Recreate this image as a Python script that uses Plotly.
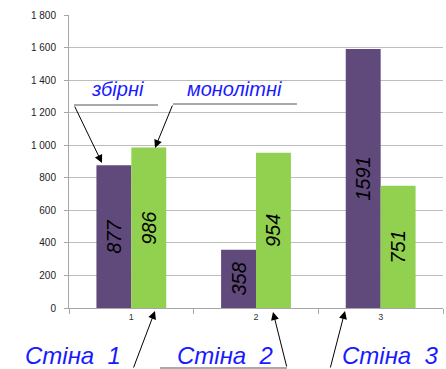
import plotly.graph_objects as go

categories = ["1", "2", "3"]
zbirni = [877, 358, 1591]
monolitni = [986, 954, 751]
ytick_vals = [0, 200, 400, 600, 800, 1000, 1200, 1400, 1600, 1800]
ytick_text = ["0", "200", "400", "600", "800", "1 000", "1 200", "1 400", "1 600", "1 800"]

L, R, T, B = 69, 3, 15, 61
WIDTH, HEIGHT = 446, 369
PW = WIDTH - L - R
PH = HEIGHT - T - B

def px(x):
    return (x - L) / PW

def py(y):
    return (HEIGHT - B - y) / PH

label_font = dict(family="Liberation Sans", size=20, color="black", style="italic")

fig = go.Figure()
fig.add_trace(go.Bar(x=categories, y=zbirni, name="збірні", marker_color="#604a7b",
                     text=[str(v) for v in zbirni], textposition="inside",
                     insidetextanchor="middle", textangle=-90, textfont=label_font,
                     marker_line_width=0))
fig.add_trace(go.Bar(x=categories, y=monolitni, name="монолітні", marker_color="#92d050",
                     text=[str(v) for v in monolitni], textposition="inside",
                     insidetextanchor="middle", textangle=-90, textfont=label_font,
                     marker_line_width=0))

blue = "#1a1aff"
tfont = dict(family="Liberation Sans", size=20, color=blue, style="italic")
bfont = dict(family="Liberation Sans", size=24, color=blue, style="italic")

annotations = []
# text labels
for txt, x, y, f in [("збірні", 117, 89, tfont), ("монолітні", 234, 89, tfont),
                     ("Стіна  1", 73, 355, bfont), ("Стіна  2", 225, 355, bfont),
                     ("Стіна  3", 390, 355, bfont)]:
    annotations.append(dict(text=txt, x=px(x), y=py(y), xref="paper", yref="paper",
                            showarrow=False, font=f, xanchor="center", yanchor="middle"))
# arrows: head (hx, hy), tail (tx, ty)
for hx, hy, tx, ty in [(102, 163, 74, 105), (155, 148, 173, 104),
                       (155, 311, 133, 372), (273, 312, 287, 368), (345, 311, 330, 372)]:
    annotations.append(dict(text="", x=px(hx), y=py(hy), xref="paper", yref="paper",
                            showarrow=True, arrowhead=2, arrowsize=1.6, arrowwidth=1,
                            arrowcolor="black", ax=tx - hx, ay=ty - hy, standoff=0))

shapes = []
for x0, x1, y in [(74, 158, 105), (173, 297, 104), (160, 287, 368)]:
    shapes.append(dict(type="line", xref="paper", yref="paper", x0=px(x0), x1=px(x1),
                       y0=py(y), y1=py(y), line=dict(color="#555555", width=1)))

fig.update_layout(
    width=WIDTH, height=HEIGHT,
    margin=dict(l=L, r=R, t=T, b=B),
    plot_bgcolor="white", paper_bgcolor="white",
    barmode="group", bargap=0.44, bargroupgap=0,
    showlegend=False,
    annotations=annotations, shapes=shapes,
    xaxis=dict(type="category", showline=True, linecolor="#a6a6a6", linewidth=1,
               ticks="outside", tickson="boundaries", ticklen=5, tickcolor="#a6a6a6",
               tickfont=dict(family="Liberation Sans", size=9, color="#333333"),
               showgrid=False),
    yaxis=dict(range=[0, 1800], tickvals=ytick_vals, ticktext=ytick_text,
               showline=True, linecolor="#a6a6a6", linewidth=1,
               ticks="outside", ticklen=4, tickcolor="#a6a6a6",
               gridcolor="#bdbdbd", gridwidth=1, zeroline=False,
               tickfont=dict(family="Liberation Sans", size=10, color="#222222"),
               ticklabelstandoff=6),
)

fig.write_html("out.html")
